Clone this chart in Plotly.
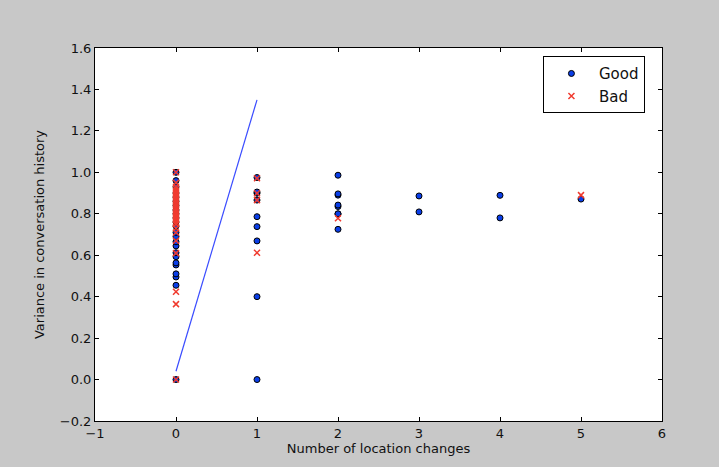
import plotly.graph_objects as go

# Data: x = number of location changes, y = variance in conversation history
good_x = [0]*24 + [1]*9 + [2]*8 + [3]*2 + [4]*2 + [5]
good_y = [0.0, 0.455, 0.495, 0.51, 0.553, 0.563, 0.593, 0.612, 0.645, 0.665, 0.69, 0.71,
          0.74, 0.76, 0.78, 0.8, 0.818, 0.84, 0.86, 0.88, 0.9, 0.93, 0.96, 1.0,
          0.0, 0.40, 0.669, 0.738, 0.786, 0.866, 0.899, 0.905, 0.975,
          0.725, 0.799, 0.835, 0.842, 0.89, 0.896, 0.986, 0.80,
          0.809, 0.886,
          0.78, 0.889,
          0.871]
bad_x = [0]*28 + [1]*4 + [2] + [5]
bad_y = [0.0, 0.364, 0.424, 0.61, 0.67, 0.71, 0.73, 0.75, 0.76, 0.77, 0.78, 0.79, 0.8, 0.81,
         0.82, 0.83, 0.84, 0.85, 0.86, 0.87, 0.88, 0.89, 0.9, 0.91, 0.92, 0.93, 0.95, 1.0,
         0.612, 0.866, 0.899, 0.971,
         0.778,
         0.89]
fit_x = [0, 1]
fit_y = [0.04, 1.35]

x_ticks = [-1, 0, 1, 2, 3, 4, 5, 6]
y_ticks = [-0.2, 0.0, 0.2, 0.4, 0.6, 0.8, 1.0, 1.2, 1.4, 1.6]

fig = go.Figure()
fig.add_trace(go.Scatter(x=fit_x, y=fit_y, mode="lines",
                         line=dict(color="#3a4cff", width=1.2), showlegend=False,
                         hoverinfo="skip"))
fig.add_trace(go.Scatter(x=good_x, y=good_y, mode="markers", name="Good",
                         marker=dict(symbol="circle", size=6, color="#0a3ee8",
                                     line=dict(color="black", width=1))))
fig.add_trace(go.Scatter(x=bad_x, y=bad_y, mode="markers", name="Bad",
                         marker=dict(symbol="x-thin", size=6,
                                     line=dict(color="#f03a2e", width=1.5))))

axis_common = dict(showgrid=False, zeroline=False, showline=True, linecolor="black",
                   linewidth=1, mirror="ticks", ticks="inside", ticklen=4,
                   tickcolor="black", tickfont=dict(family="DejaVu Sans", size=13, color="#111"))

fig.update_xaxes(range=[-1, 6], tickvals=x_ticks, ticktext=[str(v).replace("-", "\u2212") for v in x_ticks],
                 title=dict(text="Number of location changes",
                            font=dict(family="DejaVu Sans", size=13, color="#111"), standoff=2),
                 **axis_common)
fig.update_yaxes(range=[-0.2, 1.6], tickvals=y_ticks, tickformat=".1f",
                 title=dict(text="Variance in conversation history",
                            font=dict(family="DejaVu Sans", size=13, color="#111"), standoff=12),
                 **axis_common)

fig.update_layout(
    width=719, height=467,
    paper_bgcolor="#c8c8c8", plot_bgcolor="white",
    margin=dict(l=95, r=57, t=48, b=46),
    font=dict(family="DejaVu Sans", size=13, color="#111"),
    legend=dict(x=0.79, y=0.978, xanchor="left", yanchor="top",
                bgcolor="white", bordercolor="black", borderwidth=1,
                font=dict(family="DejaVu Sans", size=15, color="#111"),
                itemsizing="trace", itemwidth=45, tracegroupgap=0),
    showlegend=True,
)

fig.write_html("out.html", config={"displayModeBar": False},
               post_script="document.body.style.margin='0';document.body.style.background='#c8c8c8';")
